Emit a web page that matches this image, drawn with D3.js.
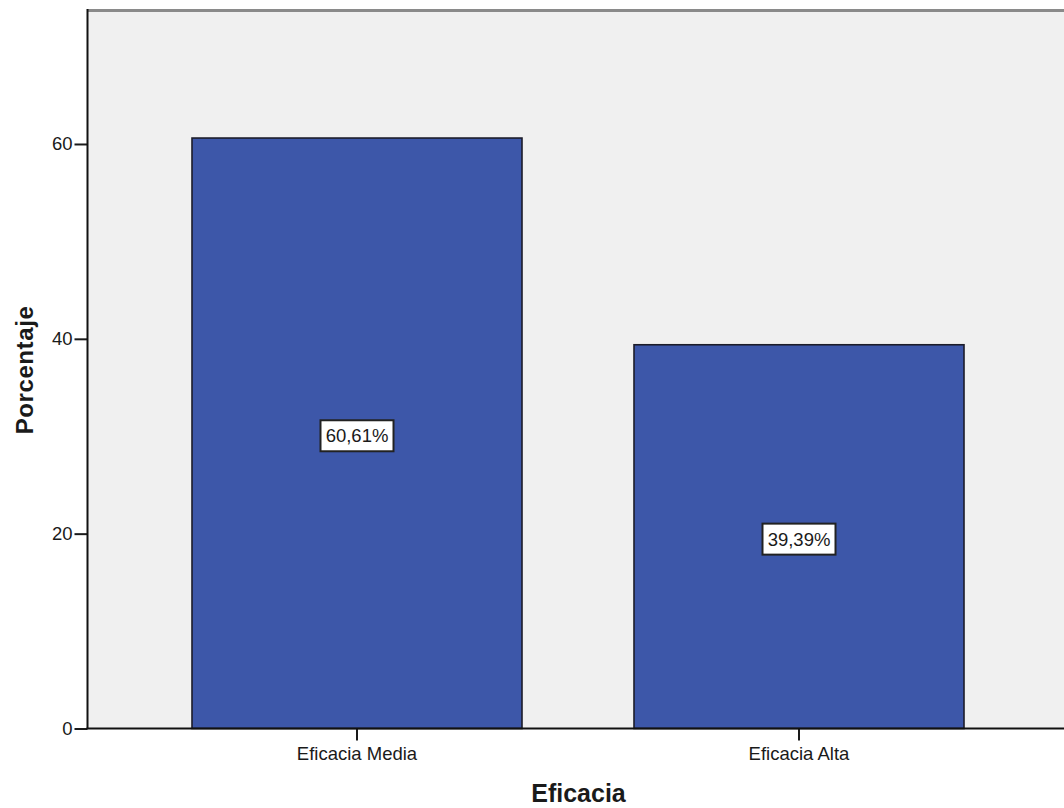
<!DOCTYPE html>
<html>
<head>
<meta charset="utf-8">
<script src="https://cdn.jsdelivr.net/npm/d3@7/dist/d3.min.js"></script>
<style>
  html, body { margin: 0; padding: 0; background: #ffffff; }
  svg { display: block; }
  text { font-family: "Liberation Sans", Arial, sans-serif; fill: #1a1a1a; }
</style>
</head>
<body>
<svg id="chart" width="1064" height="808"></svg>
<script>
// Porcentaje por nivel de eficacia
const categories = ["Eficacia Media", "Eficacia Alta"];
const percentages = [60.61, 39.39];
const valueLabels = ["60,61%", "39,39%"];
const yTicks = [0, 20, 40, 60];
const xTitle = "Eficacia";
const yTitle = "Porcentaje";

const svg = d3.select("#chart");
const plot = { left: 87.5, top: 11, right: 1064, bottom: 728.5 };

const y = d3.scaleLinear().domain([0, 73.65]).range([plot.bottom, plot.top]);
const x = d3.scaleBand()
  .domain(categories)
  .range([136, 1020])
  .paddingInner(0.2534)
  .paddingOuter(0.1267);

// plot background
svg.append("rect")
  .attr("x", plot.left).attr("y", plot.top)
  .attr("width", plot.right - plot.left).attr("height", plot.bottom - plot.top)
  .attr("fill", "#f0f0f0");

// top frame line
svg.append("line")
  .attr("x1", plot.left).attr("x2", plot.right)
  .attr("y1", plot.top - 0.5).attr("y2", plot.top - 0.5)
  .attr("stroke", "#8a8a8a").attr("stroke-width", 3);

// bars
svg.append("g").selectAll("rect")
  .data(categories)
  .join("rect")
  .attr("x", d => x(d))
  .attr("y", (d, i) => y(percentages[i]))
  .attr("width", x.bandwidth())
  .attr("height", (d, i) => y(0) - y(percentages[i]))
  .attr("fill", "#3d57a9")
  .attr("stroke", "#1c1c2a")
  .attr("stroke-width", 1.6);

// y axis
const yAxis = svg.append("g")
  .attr("transform", `translate(${plot.left},0)`)
  .call(d3.axisLeft(y).tickValues(yTicks).tickSize(13).tickPadding(2).tickFormat(d3.format("d")));
yAxis.select(".domain").remove();
yAxis.selectAll(".tick line").attr("stroke", "#1a1a1a").attr("stroke-width", 2);
yAxis.selectAll(".tick text")
  .attr("font-size", 18.5)
  .attr("font-family", "Liberation Sans, Arial, sans-serif")
  .attr("fill", "#1a1a1a");
svg.append("line")
  .attr("x1", plot.left).attr("x2", plot.left)
  .attr("y1", plot.top - 2).attr("y2", plot.bottom)
  .attr("stroke", "#111").attr("stroke-width", 2);

// x axis
const xAxis = svg.append("g")
  .attr("transform", `translate(0,${plot.bottom})`)
  .call(d3.axisBottom(x).tickSize(12).tickPadding(6));
xAxis.select(".domain").remove();
xAxis.selectAll(".tick line").attr("stroke", "#1a1a1a").attr("stroke-width", 2);
xAxis.selectAll(".tick text")
  .attr("font-size", 18.5)
  .attr("font-family", "Liberation Sans, Arial, sans-serif")
  .attr("fill", "#1a1a1a");
svg.append("line")
  .attr("x1", plot.left - 1).attr("x2", plot.right)
  .attr("y1", plot.bottom).attr("y2", plot.bottom)
  .attr("stroke", "#111").attr("stroke-width", 2);

// value labels inside bars
const lbl = svg.append("g").selectAll("g")
  .data(categories)
  .join("g")
  .attr("transform", (d, i) => `translate(${x(d) + x.bandwidth() / 2},${y(percentages[i] / 2) + 2.5})`);
lbl.append("rect")
  .attr("x", -36.5).attr("y", -15.5)
  .attr("width", 73).attr("height", 31)
  .attr("fill", "#ffffff")
  .attr("stroke", "#222").attr("stroke-width", 2);
lbl.append("text")
  .attr("text-anchor", "middle")
  .attr("dy", "0.36em")
  .attr("font-size", 18.5)
  .text((d, i) => valueLabels[i]);

// axis titles
svg.append("text")
  .attr("x", 578.5)
  .attr("y", 801.5)
  .attr("text-anchor", "middle")
  .attr("font-size", 25).attr("font-weight", "bold")
  .text(xTitle);

svg.append("text")
  .attr("transform", "translate(32.5,370) rotate(-90)")
  .attr("text-anchor", "middle")
  .attr("font-size", 24).attr("font-weight", "bold")
  .attr("letter-spacing", 0.6)
  .text(yTitle);
</script>
</body>
</html>
